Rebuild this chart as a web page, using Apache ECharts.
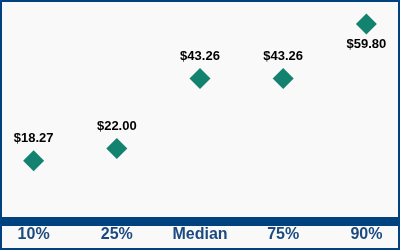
<!DOCTYPE html>
<html>
<head>
<meta charset="utf-8">
<script src="https://cdn.jsdelivr.net/npm/echarts@6/dist/echarts.min.js"></script>
<style>
html,body{margin:0;padding:0;background:#fff;}
#wrap{position:absolute;left:0;top:0;width:400px;height:250px;box-sizing:border-box;border:2px solid #00427f;background:#f9f9f9;overflow:hidden;}
#chart{position:absolute;left:-10px;top:0;width:416px;height:246px;}
</style>
</head>
<body>
<div id="wrap"><div id="chart"></div></div>
<script>
const categories = ['10%', '25%', 'Median', '75%', '90%'];
const values = [18.27, 22.00, 43.26, 43.26, 59.80];
const labelBelow = [false, false, false, false, true];

const chart = echarts.init(document.getElementById('chart'), null, {renderer: 'canvas'});
const data = values.map((v, i) => ({
  value: v,
  label: labelBelow[i] ? {position: 'bottom', distance: 3} : {position: 'top', distance: 5}
}));
chart.setOption({
  animation: false,
  backgroundColor: '#f9f9f9',
  grid: {left: 0, right: 0, top: 21.4, bottom: 27, containLabel: false},
  xAxis: {
    type: 'category',
    data: categories,
    axisLine: {show: true, lineStyle: {color: '#00427f', width: 9}},
    axisTick: {show: false},
    axisLabel: {color: '#1b4a80', fontWeight: 'bold', fontSize: 16, fontFamily: 'Liberation Sans, Arial, sans-serif', margin: 6}
  },
  yAxis: {
    type: 'value', min: 0, max: 60,
    show: false
  },
  series: [{
    type: 'scatter',
    symbol: 'diamond',
    symbolSize: [21, 21],
    itemStyle: {color: '#13826e', opacity: 1},
    label: {
      show: true,
      color: '#000',
      fontWeight: 'bold',
      fontSize: 13,
      fontFamily: 'Liberation Sans, Arial, sans-serif',
      textBorderWidth: 0,
      formatter: p => '$' + p.value.toFixed(2)
    },
    data: data
  }]
});
</script>
</body>
</html>
